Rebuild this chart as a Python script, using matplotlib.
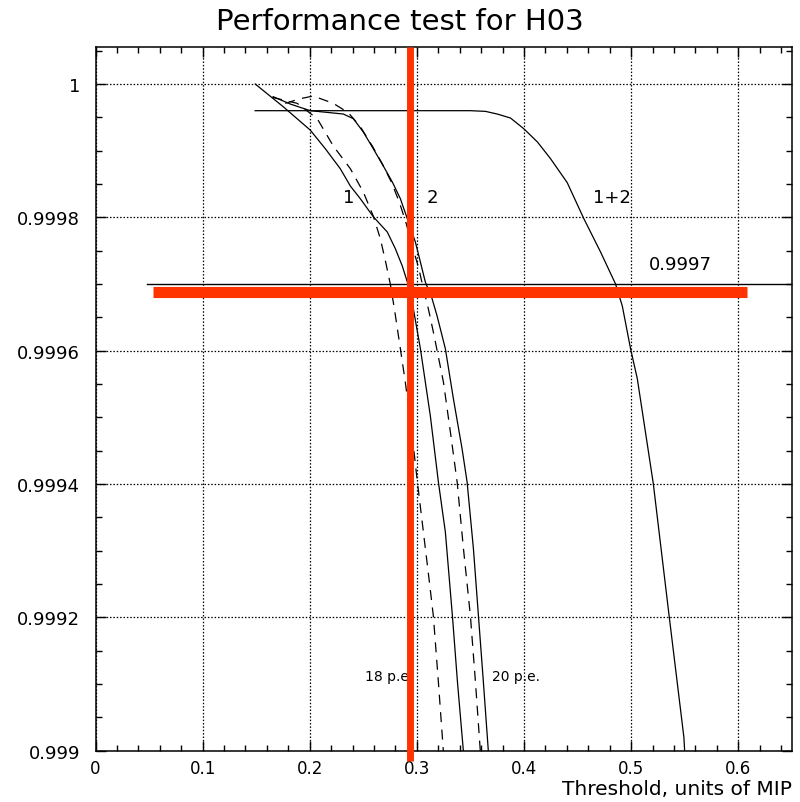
import matplotlib.pyplot as plt
from matplotlib.ticker import MultipleLocator, FixedLocator, FixedFormatter

# curve "1" (solid)
x_c1 = [0.1491, 0.1752, 0.2004, 0.2145, 0.2285, 0.2379, 0.2472, 0.2593, 0.2724, 0.2799,
        0.2864, 0.2911, 0.2967, 0.3033, 0.3079, 0.3126, 0.3201, 0.3266, 0.3332, 0.3379, 0.3435]
y_c1 = [1.0, 0.999966, 0.999931, 0.999903, 0.999873, 0.999847, 0.999828, 0.999801, 0.999778, 0.999753,
        0.999727, 0.999703, 0.999663, 0.999603, 0.999553, 0.999502, 0.999403, 0.999328, 0.999202, 0.999103, 0.998998]

# curve "2" (solid)
x_c2 = [0.1659, 0.1818, 0.2004, 0.2313, 0.2407, 0.2500, 0.2593, 0.2687, 0.2771, 0.2846, 0.2911, 0.2986,
        0.3033, 0.3079, 0.3142, 0.3189, 0.3266, 0.3341, 0.3422, 0.3469, 0.3528, 0.3575, 0.3621, 0.3668]
y_c2 = [0.999981, 0.999970, 0.999960, 0.999955, 0.999948, 0.999928, 0.999903, 0.999877, 0.999853, 0.999828,
        0.999798, 0.999763, 0.999733, 0.999703, 0.999678, 0.999652, 0.999603, 0.999528, 0.999453, 0.999403,
        0.999303, 0.999202, 0.999103, 0.998998]

# dashed, 18 p.e.
x_d18 = [0.1650, 0.1883, 0.2070, 0.2220, 0.2379, 0.2500, 0.2593, 0.2659, 0.2706, 0.2752, 0.2790, 0.2846,
         0.2892, 0.2949, 0.3005, 0.3061, 0.3117, 0.3154, 0.3201, 0.3248]
y_d18 = [0.999980, 0.999971, 0.999948, 0.999907, 0.999873, 0.999838, 0.999802, 0.999768, 0.999735, 0.999700,
         0.999663, 0.999603, 0.999553, 0.999483, 0.999403, 0.999328, 0.999253, 0.999202, 0.999103, 0.998998]

# dashed, 20 p.e.
x_d20 = [0.1771, 0.1911, 0.2033, 0.2220, 0.2360, 0.2472, 0.2584, 0.2678, 0.2762, 0.2836, 0.2902, 0.2958,
         0.3014, 0.3051, 0.3107, 0.3154, 0.3248, 0.3313, 0.3376, 0.3435, 0.3500, 0.3547, 0.3593]
y_d20 = [0.999971, 0.999978, 0.999982, 0.999971, 0.999957, 0.999936, 0.999907, 0.999880, 0.999853, 0.999823,
         0.999790, 0.999756, 0.999726, 0.999700, 0.999663, 0.999628, 0.999553, 0.999478, 0.999403, 0.999303,
         0.999202, 0.999103, 0.998998]

# curve "1+2"
x_sum = [0.149, 0.25, 0.35, 0.364, 0.375, 0.3874, 0.3998, 0.4126, 0.4248, 0.4404, 0.4559, 0.4715,
         0.4855, 0.4918, 0.4995, 0.5058, 0.5207, 0.5353, 0.5493, 0.5500]
y_sum = [0.99996, 0.99996, 0.99996, 0.999959, 0.999955, 0.999949, 0.999933, 0.999913, 0.999888, 0.999852,
         0.999798, 0.999748, 0.9997, 0.999667, 0.999603, 0.999558, 0.999401, 0.999205, 0.99902, 0.999]

level = 0.9997
x_cut = 0.294
x_ticks = [0, 0.1, 0.2, 0.3, 0.4, 0.5, 0.6]
x_labels = ['0', '0.1', '0.2', '0.3', '0.4', '0.5', '0.6']
y_ticks = [0.999, 0.9992, 0.9994, 0.9996, 0.9998, 1.0]
y_labels = ['0.999', '0.9992', '0.9994', '0.9996', '0.9998', '1']

red = '#ff3300'

fig = plt.figure(figsize=(8, 8.03), dpi=100)
ax = fig.add_axes([0.1194, 0.0639, 0.8703, 0.8763])

ax.plot(x_c1, y_c1, color='black', lw=0.9)
ax.plot(x_c2, y_c2, color='black', lw=0.9)
ax.plot(x_d18, y_d18, color='black', lw=0.9, ls=(0, (8, 6)))
ax.plot(x_d20, y_d20, color='black', lw=0.9, ls=(0, (8, 6)))
ax.plot(x_sum, y_sum, color='black', lw=0.9)
ax.plot([0.048, 0.65], [level, level], color='black', lw=1.0)

ax.set_xlim(0, 0.65)
ax.set_ylim(0.999, 1.0000555)

ax.xaxis.set_major_locator(FixedLocator(x_ticks))
ax.xaxis.set_major_formatter(FixedFormatter(x_labels))
ax.xaxis.set_minor_locator(MultipleLocator(0.02))
ax.yaxis.set_major_locator(FixedLocator(y_ticks))
ax.yaxis.set_major_formatter(FixedFormatter(y_labels))
ax.yaxis.set_minor_locator(MultipleLocator(0.00005))

ax.tick_params(which='both', direction='in', top=True, right=True, width=1.0)
ax.tick_params(which='major', length=7)
ax.tick_params(which='minor', length=4.5)
ax.tick_params(axis='y', labelsize=13, pad=11)
ax.tick_params(axis='x', labelsize=12, pad=6)
for s in ax.spines.values():
    s.set_linewidth(1.1)

ax.grid(True, which='major', color='black', lw=0.9, ls=(0, (1.2, 1.5)))

# labels on curves
ax.text(0.2362, 0.99983, '1', fontsize=13, ha='center', va='center')
ax.text(0.3145, 0.99983, '2', fontsize=13, ha='center', va='center')
ax.text(0.4818, 0.99983, '1+2', fontsize=13, ha='center', va='center')
ax.text(0.5463, 0.99973, '0.9997', fontsize=13, ha='center', va='center')
ax.text(0.2519, 0.999112, '18 p.e.', fontsize=10, ha='left', va='center')
ax.text(0.3703, 0.999112, '20 p.e.', fontsize=10, ha='left', va='center')

# red marks
ax.plot([x_cut, x_cut], [1.0000555, 0.998985], color=red, lw=5, clip_on=False, zorder=5,
        solid_capstyle='butt')
ax.plot([0.0537, 0.608], [0.999688, 0.999688], color=red, lw=8, clip_on=False, zorder=5,
        solid_capstyle='butt')

fig.text(0.5, 0.972, 'Performance test for H03', fontsize=21, ha='center', va='center')
fig.text(0.99, 0.0165, 'Threshold, units of MIP', fontsize=14.5, ha='right', va='center')

fig.savefig('out.png', dpi=100)
